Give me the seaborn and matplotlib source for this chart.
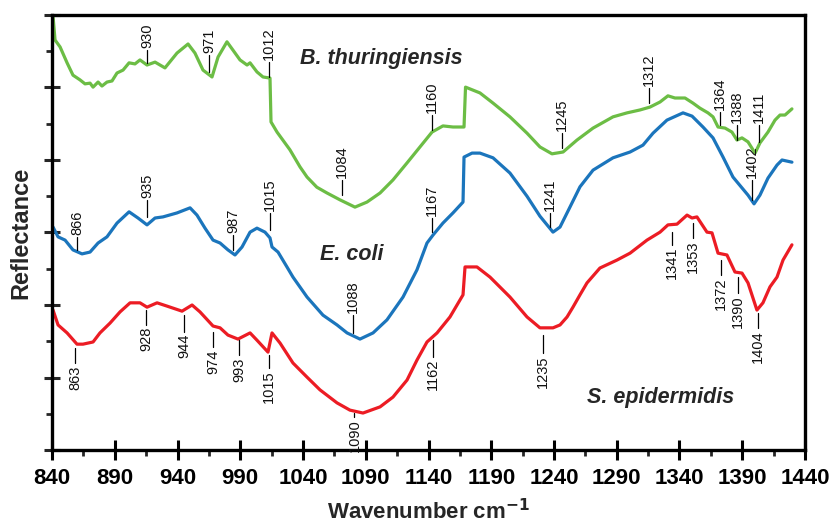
import matplotlib
matplotlib.use("Agg")
import matplotlib.pyplot as plt
import seaborn as sns
from matplotlib.ticker import FixedLocator

sns.set_theme(style="white")
plt.rcParams["font.family"] = ["Liberation Sans", "DejaVu Sans"]

# spectra (wavenumber, reflectance in arbitrary units)
bt_wn = [840.8, 842.4, 846.4, 852.0, 856.7, 862.3, 866.3, 870.3, 872.7, 876.7, 879.8, 883.8,
         887.8, 891.8, 896.6, 901.4, 906.1, 910.1, 915.7, 922.1, 930.0, 939.6, 948.4, 953.9,
         960.3, 967.5, 972.3, 979.4, 984.2, 989.8, 995.4, 997.8, 1003.3, 1008.1, 1013.7, 1014.5,
         1019.3, 1029.6, 1037.6, 1043.2, 1051.0, 1059.1, 1069.5, 1081.4, 1091.0, 1101.4, 1111.7,
         1122.9, 1133.2, 1142.8, 1151.5, 1159.5, 1168.3, 1169.5, 1181.0, 1191.4,
         1204.9, 1218.5, 1228.8, 1238.4, 1247.2, 1258.3, 1271.1, 1287.0, 1298.2, 1308.5, 1316.5,
         1324.5, 1330.8, 1336.4, 1344.4, 1350.7, 1356.3, 1362.7, 1366.7, 1370.7, 1376.3, 1381.8,
         1385.8, 1389.8, 1394.6, 1400.2, 1404.1, 1410.5, 1416.1, 1420.1, 1424.1, 1429.6]
bt_r = [11.97, 11.31, 11.12, 10.68, 10.34, 10.21, 10.10, 10.12, 10.01, 10.15, 10.04, 10.15,
        10.18, 10.40, 10.48, 10.68, 10.65, 10.76, 10.62, 10.70, 10.54, 10.95, 11.20, 10.95,
        10.48, 10.29, 10.84, 11.26, 11.03, 10.76, 10.62, 10.68, 10.43, 10.29, 10.26, 9.05,
        8.77, 8.28, 7.81, 7.53, 7.25, 7.09, 6.90, 6.70, 6.84, 7.09, 7.45,
        7.92, 8.36, 8.77, 8.94, 8.91, 8.91, 10.01, 9.85, 9.57,
        9.19, 8.74, 8.36, 8.17, 8.22, 8.55, 8.88, 9.19, 9.30, 9.38, 9.46,
        9.60, 9.77, 9.71, 9.71, 9.57, 9.43, 9.30, 9.19, 8.91, 8.88, 8.77,
        8.55, 8.61, 8.50, 8.19, 8.47, 8.77, 9.10, 9.24, 9.24, 9.41]

ec_wn = [840.8, 844.8, 850.4, 856.7, 863.9, 870.3, 876.7, 883.8, 891.8, 901.4, 908.5, 915.7,
         922.1, 928.4, 939.6, 950.0, 955.5, 961.9, 968.3, 973.9, 980.2, 985.8, 991.4, 997.8,
         1003.3, 1009.7, 1013.7, 1015.3, 1020.1, 1027.2, 1032.0, 1043.2, 1055.9, 1067.1, 1075.1,
         1085.4, 1095.8, 1106.9, 1119.7, 1130.8, 1138.8, 1143.6, 1151.5, 1159.5, 1167.5, 1168.3,
         1174.7, 1181.0, 1191.4, 1204.9, 1218.5, 1228.8, 1239.2, 1244.8, 1252.7, 1260.7, 1271.1,
         1287.0, 1300.6, 1310.9, 1318.9, 1330.0, 1342.8, 1350.0, 1358.7, 1366.7, 1374.7, 1382.6,
         1389.8, 1394.6, 1399.4, 1404.1, 1410.5, 1417.7, 1421.7, 1425.6, 1429.6]
ec_r = [6.15, 5.88, 5.79, 5.52, 5.41, 5.46, 5.71, 5.88, 6.26, 6.57, 6.40, 6.21,
        6.40, 6.43, 6.54, 6.68, 6.48, 6.12, 5.79, 5.71, 5.52, 5.38, 5.60, 6.01,
        6.12, 6.01, 5.85, 5.60, 5.46, 5.05, 4.77, 4.22, 3.72, 3.45, 3.23,
        3.06, 3.23, 3.59, 4.22, 4.97, 5.71, 5.93, 6.26, 6.54, 6.84, 8.08,
        8.19, 8.19, 8.06, 7.64, 7.00, 6.45, 6.01, 6.15, 6.70, 7.26, 7.72,
        8.06, 8.22, 8.41, 8.74, 9.10, 9.30, 9.21, 8.91, 8.61, 8.08, 7.53,
        7.23, 7.03, 6.79, 7.03, 7.50, 7.86, 8.00, 7.97, 7.94]

se_wn = [840.8, 844.8, 852.0, 859.9, 864.7, 872.7, 878.2, 886.2, 894.2, 902.2, 910.1, 915.7,
         923.7, 931.6, 943.6, 951.6, 957.9, 968.3, 973.9, 980.2, 988.2, 997.8, 1003.3, 1012.1,
         1015.3, 1021.7, 1032.0, 1043.2, 1053.5, 1067.1, 1077.4, 1087.8, 1101.4, 1111.7, 1122.9,
         1130.8, 1138.8, 1146.8, 1157.1, 1167.5, 1169.1, 1178.6, 1189.0, 1204.9, 1218.5, 1228.8,
         1239.2, 1244.8, 1250.4, 1255.1, 1260.7, 1266.3, 1276.6, 1290.2, 1300.6, 1314.1, 1324.5,
         1330.8, 1338.0, 1346.0, 1350.0, 1353.9, 1361.9, 1365.9, 1370.7, 1377.8, 1384.2, 1389.8,
         1394.6, 1401.7, 1406.5, 1412.1, 1417.7, 1422.5, 1429.6]
se_r = [3.86, 3.45, 3.23, 2.92, 2.92, 2.98, 3.23, 3.50, 3.81, 4.06, 4.06, 3.94,
        4.06, 3.97, 3.83, 4.00, 3.81, 3.42, 3.37, 3.17, 3.06, 3.23, 3.03, 2.70,
        3.23, 2.95, 2.40, 2.01, 1.66, 1.30, 1.10, 1.02, 1.19, 1.46, 1.93,
        2.48, 2.98, 3.23, 3.67, 4.28, 5.05, 5.05, 4.77, 4.22, 3.67, 3.37,
        3.37, 3.45, 3.67, 3.94, 4.28, 4.61, 5.02, 5.24, 5.43, 5.79, 6.01,
        6.21, 6.23, 6.48, 6.40, 6.43, 6.01, 5.99, 5.43, 5.38, 4.91, 4.88,
        4.61, 3.86, 4.06, 4.50, 4.77, 5.24, 5.66]

# peak labels: text, x on plot, line start (near curve), line end
bt_peaks = [("930", 915.7, 10.68, 11.03), ("971", 965.1, 10.43, 10.90), ("1012", 1012.9, 10.29, 10.70),
            ("1084", 1071.1, 7.03, 7.45), ("1160", 1142.8, 8.83, 9.24), ("1245", 1246.4, 8.33, 8.74),
            ("1312", 1315.7, 9.57, 9.99), ("1364", 1372.3, 8.97, 9.32), ("1388", 1385.8, 8.55, 8.97),
            ("1411", 1403.3, 8.50, 8.97)]
ec_peaks = [("866", 859.9, 5.52, 5.88), ("935", 915.7, 6.43, 6.90), ("987", 984.2, 5.52, 5.93),
            ("1015", 1013.7, 6.07, 6.54), ("1088", 1079.8, 3.23, 3.72), ("1167", 1142.8, 6.01, 6.40),
            ("1241", 1236.8, 6.15, 6.54), ("1402", 1397.8, 6.90, 7.45)]
se_peaks = [("863", 858.3, 2.81, 2.40), ("928", 914.9, 3.86, 3.45), ("944", 945.2, 3.72, 3.26),
            ("974", 968.3, 3.26, 2.84), ("993", 989.0, 3.03, 2.62), ("1015", 1012.9, 2.62, 2.26),
            ("1090", 1081.0, 1.02, 0.92), ("1162", 1143.6, 3.03, 2.57), ("1235", 1231.2, 3.17, 2.68),
            ("1341", 1334.0, 6.01, 5.66), ("1353", 1350.7, 6.26, 5.85), ("1372", 1373.1, 5.24, 4.83),
            ("1390", 1386.6, 4.77, 4.33), ("1404", 1402.5, 3.78, 3.37)]

x_ticks = [840, 890, 940, 990, 1040, 1090, 1140, 1190, 1240, 1290, 1340, 1390, 1440]
x_minor = [865, 915, 965, 1015, 1065, 1115, 1165, 1215, 1265, 1315, 1365, 1415]

green, blue, red = "#6cbd45", "#1b75bc", "#ec1c24"

fig = plt.figure(figsize=(8.31, 5.24), dpi=100)
ax = fig.add_axes([0.0626, 0.1412, 0.9061, 0.8302])

for wn, r, c in [(bt_wn, bt_r, green), (ec_wn, ec_r, blue), (se_wn, se_r, red)]:
    sns.lineplot(x=wn, y=r, color=c, linewidth=2.3, sort=False, ax=ax)

for peaks in [bt_peaks, ec_peaks, se_peaks]:
    for txt, x, y0, y1 in peaks:
        ax.plot([x, x], [y0, y1], color="black", linewidth=0.9)
        up = y1 > y0
        ax.text(x, y1 + (0.06 if up else -0.06), txt, rotation=90, fontsize=10.5,
                ha="center", va="bottom" if up else "top", color="#111111")

name_style = dict(fontsize=15.5, fontweight="bold", style="italic", va="center", ha="left")
ax.text(1037.6, 10.81, "B. thuringiensis", **name_style)
ax.text(1053.5, 5.38, "E. coli", **name_style)
ax.text(1266.3, 1.46, "S. epidermidis", **name_style)

ax.set_xlim(840, 1440)
ax.set_ylim(0, 12)
ax.xaxis.set_major_locator(FixedLocator(x_ticks))
ax.xaxis.set_minor_locator(FixedLocator(x_minor))
ax.set_xticklabels([str(t) for t in x_ticks], fontweight="bold")
ax.yaxis.set_major_locator(FixedLocator([0, 2, 4, 6, 8, 10, 12]))
ax.yaxis.set_minor_locator(FixedLocator([1, 3, 5, 7, 9, 11]))
ax.tick_params(axis="x", which="major", direction="inout", length=14, width=2.2,
               labelsize=16, pad=6, colors="black", bottom=True)
ax.tick_params(axis="x", which="minor", direction="out", length=4, width=2, bottom=True)
ax.tick_params(axis="y", which="major", direction="inout", length=12, width=2.2,
               labelleft=False, left=True)
ax.tick_params(axis="y", which="minor", direction="out", length=4, width=2, left=True)

for s in ax.spines.values():
    s.set_visible(True)
    s.set_color("black")
    s.set_linewidth(2.4)

ax.set_xlabel("Wavenumber cm$^{\\mathbf{-1}}$", fontsize=16, fontweight="bold", labelpad=7)
ax.set_ylabel("Reflectance", fontsize=17, fontweight="bold", labelpad=7)
ax.grid(False)

fig.savefig("out.png", dpi=100)
